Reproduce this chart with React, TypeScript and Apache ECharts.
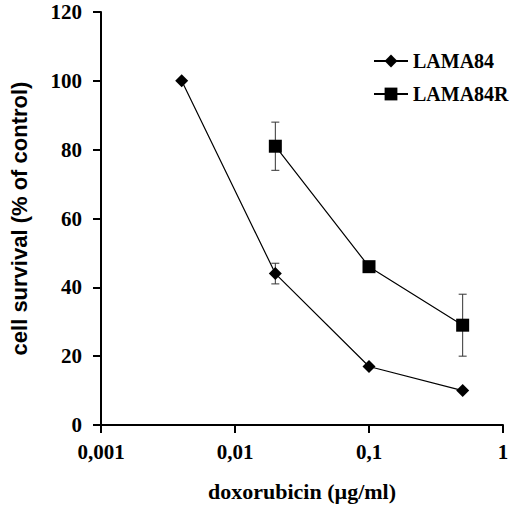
import React, { useEffect, useRef } from "react";
import * as echarts from "echarts";

const seriesNames = ["LAMA84", "LAMA84R"];
const doses84 = [0.004, 0.02, 0.1, 0.5];
const survival84 = [100, 44, 17, 10];
const err84 = [0, 3, 0, 0];
const doses84R = [0.02, 0.1, 0.5];
const survival84R = [81, 46, 29];
const err84R = [7, 0, 9];
const xTickLabels = ["0,001", "0,01", "0,1", "1"];
const yTickLabels = ["0", "20", "40", "60", "80", "100", "120"];

const SERIF = "'Liberation Serif', 'Times New Roman', serif";
const SANS = "'Liberation Sans', Arial, sans-serif";

export default function App() {
  const ref = useRef<HTMLDivElement>(null);
  useEffect(() => {
    if (!ref.current) return;
    const chart = echarts.init(ref.current, null, { renderer: "svg" });
    const pts84 = doses84.map((d, i) => [d, survival84[i]]);
    const pts84R = doses84R.map((d, i) => [d, survival84R[i]]);
    const errData = [
      ...doses84.map((d, i) => [d, survival84[i], err84[i]]),
      ...doses84R.map((d, i) => [d, survival84R[i], err84R[i]]),
    ].filter((e) => e[2] > 0);
    chart.setOption({
      animation: false,
      backgroundColor: "#fff",
      grid: { left: 92, right: 17, top: 12, bottom: 79 },
      legend: {
        orient: "vertical",
        left: 373,
        top: 51,
        padding: 0,
        itemWidth: 34,
        itemHeight: 16,
        itemGap: 13,
        data: seriesNames,
        textStyle: { fontFamily: SERIF, fontWeight: "bold", fontSize: 20, color: "#000" },
      },
      xAxis: {
        type: "log",
        min: 0.001,
        max: 1,
        logBase: 10,
        name: "doxorubicin (µg/ml)",
        nameLocation: "middle",
        nameGap: 55,
        nameTextStyle: { fontFamily: SERIF, fontWeight: "bold", fontSize: 22, color: "#000" },
        axisLine: { lineStyle: { color: "#000", width: 2 } },
        axisTick: { show: true, length: 8, lineStyle: { color: "#000", width: 2 } },
        minorTick: { show: false },
        splitLine: { show: false },
        axisLabel: {
          margin: 16,
          fontFamily: SERIF,
          fontWeight: "bold",
          fontSize: 21,
          color: "#000",
          formatter: (v: number) => xTickLabels[Math.round(Math.log10(v)) + 3] ?? "",
        },
      },
      yAxis: {
        type: "value",
        min: 0,
        max: 120,
        interval: 20,
        name: "cell survival (% of control)",
        nameLocation: "middle",
        nameGap: 71,
        nameTextStyle: { fontFamily: SANS, fontWeight: "bold", fontSize: 22, color: "#000" },
        axisLine: { show: true, lineStyle: { color: "#000", width: 2 } },
        axisTick: { show: true, length: 8, lineStyle: { color: "#000", width: 2 } },
        splitLine: { show: false },
        axisLabel: {
          margin: 19,
          fontFamily: SERIF,
          fontWeight: "bold",
          fontSize: 21,
          color: "#000",
          formatter: (v: number) => yTickLabels[Math.round(v / 20)] ?? "",
        },
      },
      series: [
        {
          type: "custom",
          name: "errors",
          z: 1,
          silent: true,
          data: errData,
          renderItem: (params: any, api: any) => {
            const x = api.value(0);
            const y = api.value(1);
            const e = api.value(2);
            const top = api.coord([x, y + e]);
            const bot = api.coord([x, y - e]);
            const hw = 4;
            const style = { stroke: "#333", lineWidth: 1 };
            return {
              type: "group",
              children: [
                { type: "line", shape: { x1: top[0], y1: top[1], x2: bot[0], y2: bot[1] }, style },
                { type: "line", shape: { x1: top[0] - hw, y1: top[1], x2: top[0] + hw, y2: top[1] }, style },
                { type: "line", shape: { x1: bot[0] - hw, y1: bot[1], x2: bot[0] + hw, y2: bot[1] }, style },
              ],
            };
          },
        },
        {
          type: "line",
          name: seriesNames[0],
          z: 3,
          data: pts84,
          symbol: "diamond",
          symbolSize: 13,
          color: "#000",
          lineStyle: { color: "#000", width: 1.2 },
          itemStyle: { color: "#000" },
        },
        {
          type: "line",
          name: seriesNames[1],
          z: 3,
          data: pts84R,
          symbol: "rect",
          symbolSize: 13,
          color: "#000",
          lineStyle: { color: "#000", width: 1.2 },
          itemStyle: { color: "#000" },
        },
      ],
    });
    return () => chart.dispose();
  }, []);
  return (
    <div
      ref={ref}
      style={{ position: "absolute", left: 0, top: 0, width: 520, height: 507, background: "#fff" }}
    />
  );
}
